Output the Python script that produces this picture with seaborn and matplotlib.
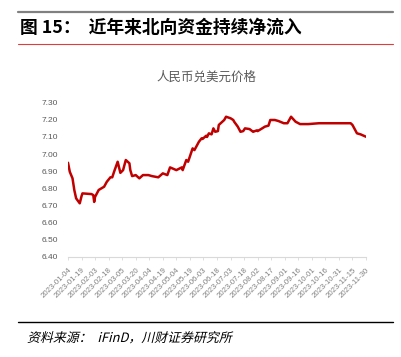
import pandas as pd
import matplotlib
matplotlib.use('Agg')
import matplotlib.pyplot as plt
import seaborn as sns
from matplotlib import font_manager
from matplotlib.textpath import TextPath
from matplotlib.patches import PathPatch
from matplotlib.font_manager import FontProperties
from matplotlib.transforms import Affine2D

# --- data (CNY/USD central parity, 2023) ---
dates = ['2023-01-04', '2023-01-06', '2023-01-09', '2023-01-11', '2023-01-13', '2023-01-17',
         '2023-01-19', '2023-01-20', '2023-01-30', '2023-02-01', '2023-02-02', '2023-02-03',
         '2023-02-07', '2023-02-13', '2023-02-16', '2023-02-20', '2023-02-22', '2023-02-24',
         '2023-02-28', '2023-03-03', '2023-03-06', '2023-03-09', '2023-03-13', '2023-03-14',
         '2023-03-16', '2023-03-20', '2023-03-24', '2023-03-28', '2023-04-03', '2023-04-07',
         '2023-04-14', '2023-04-19', '2023-04-24', '2023-04-27', '2023-05-04', '2023-05-10',
         '2023-05-11', '2023-05-15', '2023-05-17', '2023-05-22', '2023-05-24', '2023-05-29',
         '2023-06-01', '2023-06-02', '2023-06-06', '2023-06-07', '2023-06-09', '2023-06-12',
         '2023-06-14', '2023-06-16', '2023-06-19', '2023-06-20', '2023-06-26', '2023-06-28',
         '2023-07-03', '2023-07-06', '2023-07-07', '2023-07-11', '2023-07-14', '2023-07-17',
         '2023-07-19', '2023-07-24', '2023-07-27', '2023-07-28', '2023-08-01', '2023-08-02',
         '2023-08-07', '2023-08-10', '2023-08-14', '2023-08-16', '2023-08-18', '2023-08-21',
         '2023-08-25', '2023-08-31', '2023-09-04', '2023-09-08', '2023-09-13', '2023-09-18',
         '2023-09-27', '2023-10-09', '2023-11-13', '2023-11-15', '2023-11-20', '2023-11-24',
         '2023-11-30']
rates = [6.949, 6.896, 6.858, 6.789, 6.741, 6.712,
         6.754, 6.770, 6.766, 6.760, 6.720, 6.750,
         6.790, 6.809, 6.838, 6.864, 6.864, 6.896,
         6.955, 6.890, 6.906, 6.965, 6.946, 6.906,
         6.871, 6.877, 6.858, 6.877, 6.877, 6.871,
         6.864, 6.887, 6.877, 6.922, 6.906, 6.922,
         6.906, 6.965, 6.955, 7.033, 7.023, 7.072,
         7.092, 7.088, 7.107, 7.100, 7.121, 7.115,
         7.150, 7.130, 7.134, 7.170, 7.199, 7.218,
         7.209, 7.199, 7.189, 7.160, 7.130, 7.134,
         7.150, 7.146, 7.134, 7.130, 7.138, 7.134,
         7.150, 7.160, 7.166, 7.199, 7.199, 7.199,
         7.193, 7.180, 7.180, 7.218, 7.189, 7.175,
         7.175, 7.180, 7.180, 7.170, 7.121, 7.115,
         7.101]
tick_dates = ['2023-01-04', '2023-01-19', '2023-02-03', '2023-02-18', '2023-03-05', '2023-03-20',
              '2023-04-04', '2023-04-19', '2023-05-04', '2023-05-19', '2023-06-03', '2023-06-18',
              '2023-07-03', '2023-07-18', '2023-08-02', '2023-08-17', '2023-09-01', '2023-09-16',
              '2023-10-01', '2023-10-16', '2023-10-31', '2023-11-15', '2023-11-30']
y_ticks = [6.40, 6.50, 6.60, 6.70, 6.80, 6.90, 7.00, 7.10, 7.20, 7.30]

df = pd.DataFrame({'date': pd.to_datetime(dates), 'rate': rates})

sns.set_style('white')
plt.rcParams['font.family'] = ['Noto Sans CJK SC', 'DejaVu Sans']
installed = {f.name for f in font_manager.fontManager.ttflist}
y_font = ['Liberation Sans Narrow'] if 'Liberation Sans Narrow' in installed else ['Liberation Sans']
x_font = ['Liberation Sans', 'DejaVu Sans']

fig = plt.figure(figsize=(4.01, 3.57), dpi=100)
ax = fig.add_axes([68 / 401, 1 - 256.7 / 357, 298 / 401, 154 / 357])

sns.lineplot(data=df, x='date', y='rate', color='#C00000', linewidth=1.8, ax=ax)

ax.set_xlim(pd.Timestamp(dates[0]), pd.Timestamp(dates[-1]))
ax.set_ylim(6.40, 7.30)
ax.set_xlabel('')
ax.set_ylabel('')

ax.set_yticks(y_ticks)
ax.set_yticklabels([f'{v:.2f}' for v in y_ticks], family=y_font, fontsize=6, color='#595959')
ax.set_xticks(pd.to_datetime(tick_dates))
ax.set_xticklabels(tick_dates, family=x_font, fontsize=5.6, color='#808080',
                   rotation=45, ha='right', rotation_mode='anchor')
ax.tick_params(axis='y', length=0, pad=7)
ax.tick_params(axis='x', length=2, width=0.6, color='#D9D9D9', pad=5, bottom=True)

for side in ['left', 'right', 'top']:
    ax.spines[side].set_visible(False)
ax.spines['bottom'].set_color('#D9D9D9')
ax.spines['bottom'].set_linewidth(0.8)
ax.grid(False)

# chart title
fig.text(206 / 401, 1 - 77.7 / 357, '人民币兑美元价格', ha='center', va='center',
         fontsize=9, color='#595959')

# report frame: header and footer
fig.add_artist(plt.Line2D([18 / 401, 393 / 401], [1 - 11.7 / 357] * 2, color='#808080', linewidth=1.6))
fig.text(20 / 401, 1 - 27.3 / 357, '图 15：  近年来北向资金持续净流入', ha='left', va='center',
         fontsize=12.8, fontweight='bold', color='black')
fig.add_artist(plt.Line2D([18 / 401, 393 / 401], [1 - 44 / 357] * 2, color='#E03C3C', linewidth=0.8))
fig.add_artist(plt.Line2D([18 / 401, 393 / 401], [1 - 321.7 / 357] * 2, color='black', linewidth=1.0))

# source line, slanted like the italic in the reference
src = TextPath((0, 0), '资料来源：  iFinD，川财证券研究所', size=9.3,
               prop=FontProperties(family=['Noto Sans CJK SC', 'DejaVu Sans']))
tr = Affine2D().skew_deg(14, 0).scale(1 / 72).translate(0.27, (357 - 342) / 100) + fig.dpi_scale_trans
fig.add_artist(PathPatch(src, transform=tr, facecolor='black', edgecolor='none'))

fig.savefig('out.png', dpi=100)
